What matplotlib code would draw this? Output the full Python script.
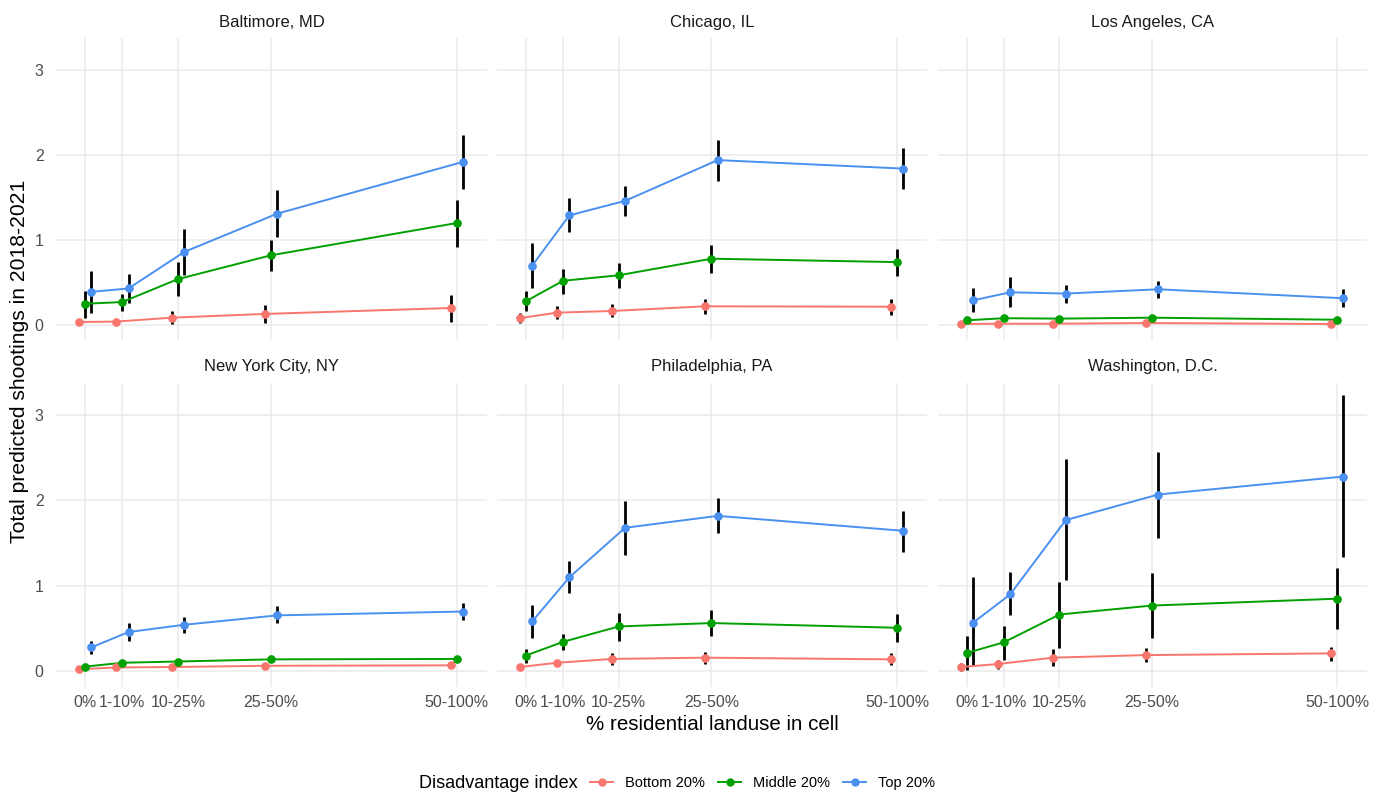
import matplotlib
matplotlib.use("Agg")
import matplotlib.pyplot as plt
from matplotlib.lines import Line2D
import numpy as np

plt.rcParams['font.family'] = ['Liberation Sans', 'DejaVu Sans']

# residential landuse bins, placed at their upper bound
bins = ["0%", "1-10%", "10-25%", "25-50%", "50-100%"]
bin_pos = [0, 10, 25, 50, 100]

groups = ["Bottom 20%", "Middle 20%", "Top 20%"]
colors = ["#F8766D", "#00A000", "#4A90F0"]

cities = ["Baltimore, MD", "Chicago, IL", "Los Angeles, CA",
          "New York City, NY", "Philadelphia, PA", "Washington, D.C."]

# predicted shootings (estimate, lower, upper) per city and group
baltimore_bottom = [0.035, 0.04, 0.086, 0.13, 0.20]
baltimore_bottom_lo = [0.02, 0.025, 0.01, 0.02, 0.035]
baltimore_bottom_hi = [0.05, 0.055, 0.165, 0.235, 0.35]
baltimore_middle = [0.25, 0.27, 0.54, 0.82, 1.20]
baltimore_middle_lo = [0.08, 0.17, 0.34, 0.64, 0.92]
baltimore_middle_hi = [0.40, 0.37, 0.74, 1.00, 1.47]
baltimore_top = [0.39, 0.43, 0.86, 1.31, 1.92]
baltimore_top_lo = [0.145, 0.255, 0.59, 1.03, 1.60]
baltimore_top_hi = [0.63, 0.60, 1.13, 1.59, 2.24]

chicago_bottom = [0.08, 0.145, 0.165, 0.22, 0.215]
chicago_bottom_lo = [0.02, 0.07, 0.09, 0.13, 0.12]
chicago_bottom_hi = [0.14, 0.22, 0.245, 0.31, 0.305]
chicago_middle = [0.28, 0.52, 0.585, 0.78, 0.74]
chicago_middle_lo = [0.16, 0.365, 0.435, 0.61, 0.58]
chicago_middle_hi = [0.40, 0.66, 0.73, 0.94, 0.90]
chicago_top = [0.70, 1.29, 1.46, 1.94, 1.84]
chicago_top_lo = [0.43, 1.09, 1.28, 1.69, 1.60]
chicago_top_hi = [0.97, 1.49, 1.64, 2.18, 2.08]

la_bottom = [0.012, 0.015, 0.015, 0.023, 0.012]
la_bottom_lo = [0.004, 0.006, 0.006, 0.012, 0.004]
la_bottom_hi = [0.022, 0.025, 0.025, 0.035, 0.022]
la_middle = [0.055, 0.08, 0.075, 0.086, 0.062]
la_middle_lo = [0.035, 0.06, 0.055, 0.066, 0.042]
la_middle_hi = [0.075, 0.10, 0.095, 0.106, 0.082]
la_top = [0.29, 0.385, 0.37, 0.42, 0.315]
la_top_lo = [0.155, 0.215, 0.26, 0.315, 0.215]
la_top_hi = [0.43, 0.56, 0.47, 0.52, 0.42]

nyc_bottom = [0.025, 0.045, 0.05, 0.065, 0.07]
nyc_bottom_lo = [0.015, 0.035, 0.04, 0.055, 0.06]
nyc_bottom_hi = [0.035, 0.055, 0.06, 0.075, 0.08]
nyc_middle = [0.055, 0.10, 0.115, 0.14, 0.145]
nyc_middle_lo = [0.04, 0.085, 0.10, 0.125, 0.13]
nyc_middle_hi = [0.07, 0.115, 0.13, 0.155, 0.16]
nyc_top = [0.28, 0.46, 0.545, 0.655, 0.70]
nyc_top_lo = [0.205, 0.36, 0.45, 0.56, 0.60]
nyc_top_hi = [0.35, 0.57, 0.64, 0.76, 0.80]

phl_bottom = [0.05, 0.10, 0.145, 0.16, 0.14]
phl_bottom_lo = [0.03, 0.07, 0.075, 0.085, 0.075]
phl_bottom_hi = [0.07, 0.13, 0.22, 0.225, 0.22]
phl_middle = [0.185, 0.345, 0.525, 0.565, 0.51]
phl_middle_lo = [0.10, 0.245, 0.36, 0.415, 0.345]
phl_middle_hi = [0.26, 0.44, 0.68, 0.72, 0.67]
phl_top = [0.585, 1.10, 1.68, 1.82, 1.645]
phl_top_lo = [0.39, 0.92, 1.365, 1.625, 1.40]
phl_top_hi = [0.78, 1.29, 1.995, 2.025, 1.88]

dc_bottom = [0.05, 0.085, 0.16, 0.19, 0.21]
dc_bottom_lo = [0.0, 0.03, 0.065, 0.105, 0.125]
dc_bottom_hi = [0.10, 0.13, 0.26, 0.27, 0.285]
dc_middle = [0.215, 0.34, 0.665, 0.77, 0.85]
dc_middle_lo = [0.02, 0.135, 0.27, 0.385, 0.49]
dc_middle_hi = [0.41, 0.535, 1.05, 1.155, 1.21]
dc_top = [0.57, 0.90, 1.77, 2.07, 2.28]
dc_top_lo = [0.07, 0.655, 1.065, 1.56, 1.335]
dc_top_hi = [1.10, 1.16, 2.485, 2.565, 3.23]

panels = [
    [(baltimore_bottom, baltimore_bottom_lo, baltimore_bottom_hi),
     (baltimore_middle, baltimore_middle_lo, baltimore_middle_hi),
     (baltimore_top, baltimore_top_lo, baltimore_top_hi)],
    [(chicago_bottom, chicago_bottom_lo, chicago_bottom_hi),
     (chicago_middle, chicago_middle_lo, chicago_middle_hi),
     (chicago_top, chicago_top_lo, chicago_top_hi)],
    [(la_bottom, la_bottom_lo, la_bottom_hi),
     (la_middle, la_middle_lo, la_middle_hi),
     (la_top, la_top_lo, la_top_hi)],
    [(nyc_bottom, nyc_bottom_lo, nyc_bottom_hi),
     (nyc_middle, nyc_middle_lo, nyc_middle_hi),
     (nyc_top, nyc_top_lo, nyc_top_hi)],
    [(phl_bottom, phl_bottom_lo, phl_bottom_hi),
     (phl_middle, phl_middle_lo, phl_middle_hi),
     (phl_top, phl_top_lo, phl_top_hi)],
    [(dc_bottom, dc_bottom_lo, dc_bottom_hi),
     (dc_middle, dc_middle_lo, dc_middle_hi),
     (dc_top, dc_top_lo, dc_top_hi)],
]

W, H = 1387, 792
fig = plt.figure(figsize=(W / 100, H / 100), dpi=100)

# panel boxes in pixels: (left, right), (top, bottom)
cols_px = [(56, 487), (497, 927), (938, 1367)]
rows_px = [(37.7, 340.3), (382.6, 686.7)]
dodge = 1.7
grid_col = "#EBEBEB"

for i, city in enumerate(cities):
    r, c = divmod(i, 3)
    (x0, x1), (y0, y1) = cols_px[c], rows_px[r]
    ax = fig.add_axes([x0 / W, 1 - y1 / H, (x1 - x0) / W, (y1 - y0) / H])
    ax.set_xlim(-7.8, 108.1)
    ax.set_ylim(-0.18, 3.38)
    ax.set_xticks(bin_pos)
    ax.set_yticks([0, 1, 2, 3])
    ax.grid(True, color=grid_col, linewidth=1.1)
    ax.set_axisbelow(True)
    for s in ax.spines.values():
        s.set_visible(False)
    ax.tick_params(length=0, labelsize=11.5, colors="#4D4D4D")
    ax.tick_params(axis="x", pad=6)
    ax.tick_params(axis="y", pad=9)
    if r == 1:
        ax.set_xticklabels(bins)
    else:
        ax.set_xticklabels([])
    if c == 0:
        ax.set_yticklabels(["0", "1", "2", "3"])
    else:
        ax.set_yticklabels([])
    ax.set_title(city, fontsize=12, color="#1A1A1A", pad=8)

    for g, (vals, lo, hi) in enumerate(panels[i]):
        xs = np.array(bin_pos) + (g - 1) * dodge
        ax.vlines(xs, lo, hi, color="black", linewidth=2.0, zorder=2)
        ax.plot(xs, vals, color=colors[g], linewidth=1.4, zorder=3)
        ax.plot(xs, vals, 'o', color=colors[g], markersize=5.2, zorder=4)

fig.text(20 / W, 1 - 361 / H, "Total predicted shootings in 2018-2021",
         rotation=90, ha="center", va="center", fontsize=15.2)
fig.text(712 / W, 1 - 724 / H, "% residential landuse in cell",
         ha="center", va="center", fontsize=14.8)

fig.text(578 / W, 1 - 783 / H, "Disadvantage index",
         ha="right", va="center", fontsize=13)
handles = [Line2D([], [], color=col, linewidth=1.4, marker='o', markersize=5)
           for col in colors]
fig.legend(handles, groups, loc="center left",
           bbox_to_anchor=(590 / W, 1 - 783 / H), ncol=3, frameon=False,
           fontsize=10.5, handlelength=1.6, handletextpad=0.8,
           columnspacing=0.9, borderpad=0, borderaxespad=0)

fig.savefig("out.png", dpi=100)
